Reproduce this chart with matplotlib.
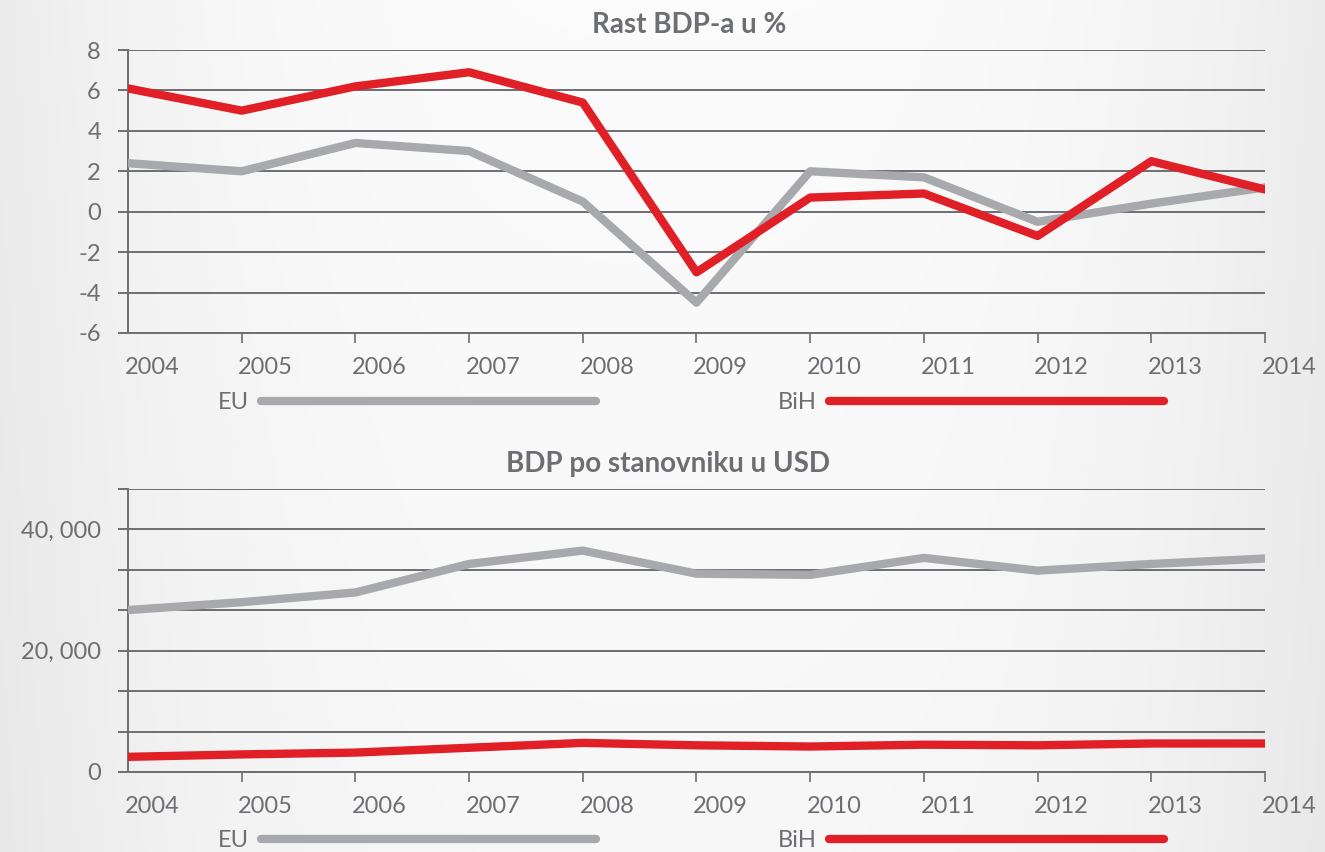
"""Rast BDP-a i BDP po stanovniku: EU vs BiH, 2004-2014."""
import matplotlib

matplotlib.use("Agg")
import matplotlib.pyplot as plt  # noqa: E402
import matplotlib.transforms as mtransforms  # noqa: E402
import numpy as np  # noqa: E402
from matplotlib.lines import Line2D  # noqa: E402
from matplotlib.ticker import FuncFormatter, MultipleLocator  # noqa: E402

years = [2004, 2005, 2006, 2007, 2008, 2009, 2010, 2011, 2012, 2013, 2014]

# rast BDP-a u %
eu_growth = [2.4, 2.0, 3.4, 3.0, 0.5, -4.5, 2.0, 1.7, -0.5, 0.4, 1.2]
bih_growth = [6.1, 5.0, 6.2, 6.9, 5.4, -3.0, 0.7, 0.9, -1.2, 2.5, 1.1]

# BDP po stanovniku u USD
eu_gdp_pc = [26700, 28000, 29600, 34300, 36500, 32700, 32500, 35300, 33200, 34300, 35200]
bih_gdp_pc = [2500, 2900, 3200, 4000, 4800, 4400, 4200, 4500, 4400, 4700, 4700]

series_names = ["EU", "BiH"]
titles = ["Rast BDP-a u %", "BDP po stanovniku u USD"]

GRAY_LINE = "#a7a9ac"
RED = "#e01f26"
GRID = "#6d6e71"
TEXT = "#6d6e71"
FS = 17

plt.rcParams["font.family"] = ["Lato", "DejaVu Sans"]
plt.rcParams["axes.unicode_minus"] = False

fig = plt.figure(figsize=(13.25, 8.52), dpi=100)

# blijeda pozadina s gradijentom
bg = fig.add_axes([0, 0, 1, 1], zorder=-10)
gx = np.linspace(-1, 1, 400)
gy = np.linspace(-1, 1, 260)
X, Y = np.meshgrid(gx, gy)
shade = 0.985 - 0.06 * np.clip(np.abs(X) ** 3, 0, 1) - 0.015 * (Y + 1) / 2
bg.imshow(np.dstack([shade] * 3), aspect="auto", extent=[0, 1, 0, 1])
bg.axis("off")

ax1 = fig.add_axes([0.0966, 0.6092, 0.8581, 0.3321])
ax2 = fig.add_axes([0.0966, 0.0939, 0.8581, 0.3322])


def style_axes(ax, title, title_x):
    ax.patch.set_alpha(0)
    for s in ("top", "right"):
        ax.spines[s].set_visible(False)
    for s in ("left", "bottom"):
        ax.spines[s].set_color(GRID)
        ax.spines[s].set_linewidth(1.4)
    ax.grid(axis="y", color=GRID, linewidth=1.4)
    ax.set_axisbelow(True)
    ax.set_xlim(years[0], years[-1])
    ax.set_xticks(years)
    ax.tick_params(axis="x", direction="out", length=7.5, width=1.2, color=GRID,
                   labelcolor=TEXT, labelsize=FS, pad=10)
    ax.tick_params(axis="y", direction="out", length=7.5, width=1.4, color=GRID,
                   labelcolor=TEXT, labelsize=FS, pad=12)
    ax.xaxis.get_major_ticks()[0].tick1line.set_visible(False)
    shift = mtransforms.ScaledTranslation(24 / 100, 0, fig.dpi_scale_trans)
    for lbl in ax.get_xticklabels():
        lbl.set_transform(lbl.get_transform() + shift)
    ax.set_title(title, fontsize=20, fontweight="bold", color=TEXT, pad=12,
                 x=title_x)


def add_legend(y):
    handles = [
        Line2D([], [], color=GRAY_LINE, lw=6, solid_capstyle="round"),
        Line2D([], [], color=RED, lw=6, solid_capstyle="round"),
    ]
    leg = fig.legend(handles, series_names, loc="center", ncol=2,
                     bbox_to_anchor=(0.5215, y), markerfirst=False, frameon=False,
                     handlelength=14.2, handletextpad=0.5, columnspacing=7.7,
                     fontsize=FS)
    for t in leg.get_texts():
        t.set_color(TEXT)


# gornji grafikon
ax1.plot(years, eu_growth, color=GRAY_LINE, lw=6, solid_joinstyle="round",
         solid_capstyle="round", zorder=3)
ax1.plot(years, bih_growth, color=RED, lw=6, solid_joinstyle="round",
         solid_capstyle="round", zorder=4)
ax1.set_ylim(-6, 8)
ax1.yaxis.set_major_locator(MultipleLocator(2))
style_axes(ax1, titles[0], 0.494)
add_legend(0.527)

# donji grafikon
ax2.plot(years, eu_gdp_pc, color=GRAY_LINE, lw=6, solid_joinstyle="round",
         solid_capstyle="round", zorder=3)
ax2.plot(years, bih_gdp_pc, color=RED, lw=6, solid_joinstyle="round",
         solid_capstyle="round", zorder=4)
ax2.set_ylim(0, 140000 / 3)
ax2.yaxis.set_major_locator(MultipleLocator(20000 / 3))


def gdp_fmt(v, _pos):
    k = int(round(v))
    if k % 20000 == 0:
        return "0" if k == 0 else f"{k // 1000}, 000"
    return ""


ax2.yaxis.set_major_formatter(FuncFormatter(gdp_fmt))
style_axes(ax2, titles[1], 0.475)
add_legend(0.013)

fig.savefig("out.png", dpi=100)
